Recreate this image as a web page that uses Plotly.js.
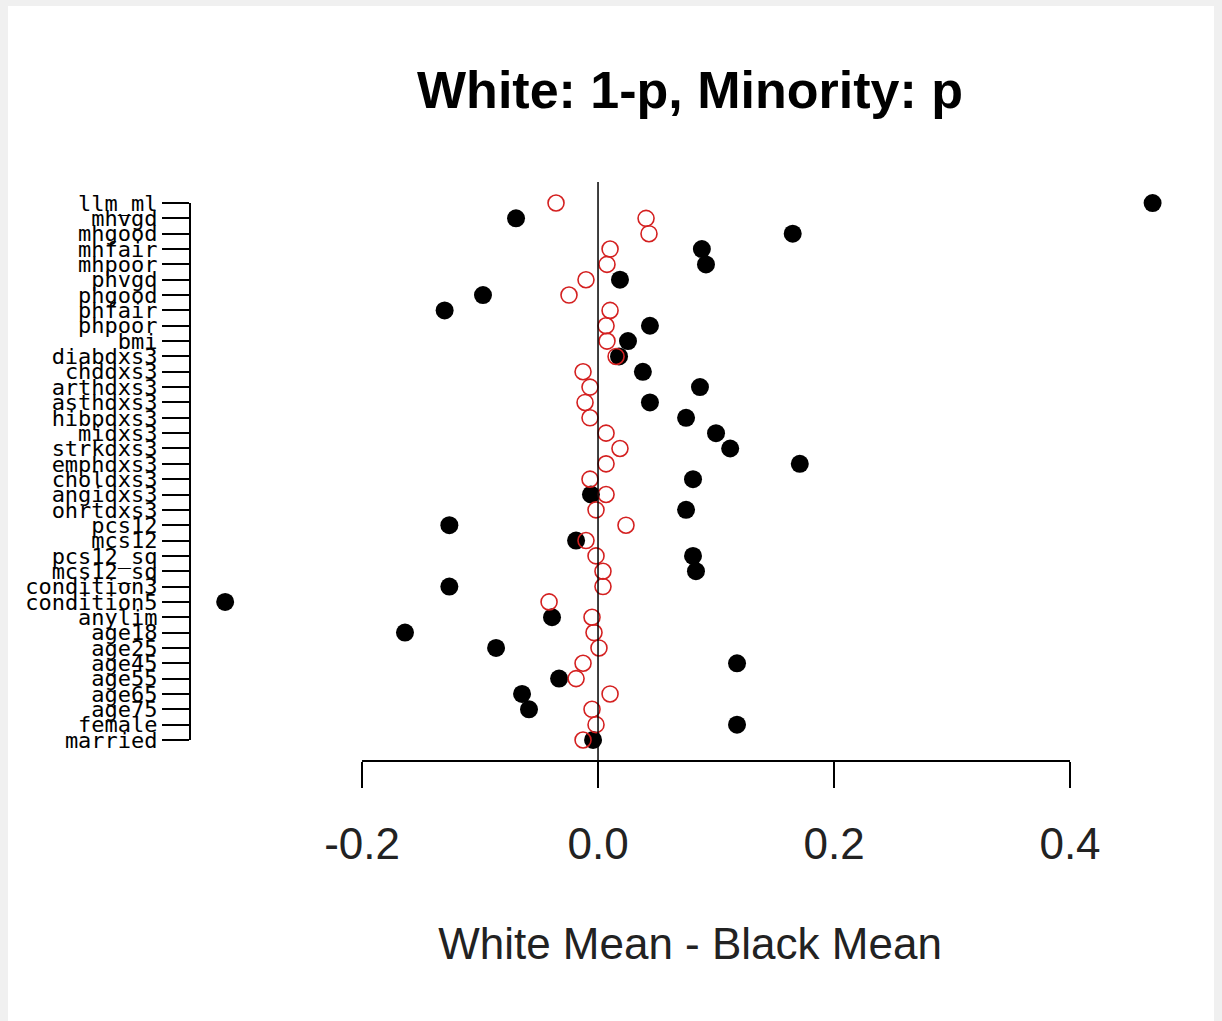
<!DOCTYPE html>
<html>
<head>
<meta charset="utf-8">
<script src="https://cdn.plot.ly/plotly-3.0.1.min.js"></script>
<style>
html,body{margin:0;padding:0;background:#f0f0f0;}
#chart{position:absolute;left:8px;top:6px;width:1206px;height:1015px;background:#fff;}
</style>
</head>
<body>
<div id="chart"></div>
<script>
const labels = ["llm_ml","mhvgd","mhgood","mhfair","mhpoor","phvgd","phgood","phfair","phpoor","bmi",
 "diabdxs3","chddxs3","arthdxs3","asthdxs3","hibpdxs3","midxs3","strkdxs3","emphdxs3","choldxs3","angidxs3",
 "ohrtdxs3","pcs12","mcs12","pcs12_sq","mcs12_sq","condition3","condition5","anylim","age18","age25",
 "age45","age55","age65","age75","female","married"];
// black filled points: white mean - black mean
const blackDiff = [0.470,-0.0695,0.165,0.088,0.0915,0.0186,-0.0975,-0.130,0.044,0.0254,
 0.0178,0.038,0.0864,0.044,0.0746,0.100,0.112,0.171,0.0805,-0.006,
 0.0746,-0.126,-0.0186,0.0805,0.083,-0.126,-0.316,-0.039,-0.1636,-0.0864,
 0.1178,-0.033,-0.0644,-0.0585,0.1178,-0.0042];
// red open points: weighted (1-p / p)
const redDiff = [-0.0356,0.0407,0.0432,0.0102,0.0076,-0.0102,-0.0246,0.0102,0.0068,0.0076,
 0.0153,-0.0127,-0.0068,-0.011,-0.0068,0.0068,0.0186,0.0068,-0.0068,0.0068,
 -0.0017,0.0237,-0.0102,-0.0017,0.0042,0.0042,-0.0415,-0.0051,-0.0034,0.0008,
 -0.0127,-0.0186,0.0102,-0.0051,-0.0017,-0.0127];
const xTicks = [-0.2, 0.0, 0.2, 0.4];
const xTickText = ["-0.2","0.0","0.2","0.4"];

const rows = labels.map((_, i) => i);

const traces = [
 {x: blackDiff, y: rows, type: 'scatter', mode: 'markers', name: 'unweighted',
  marker: {symbol: 'circle', size: 18, color: '#000'}, cliponaxis: false},
 {x: redDiff, y: rows, type: 'scatter', mode: 'markers', name: 'weighted',
  marker: {symbol: 'circle-open', size: 16, color: '#d42020', line: {width: 1.6, color: '#d42020'}}, cliponaxis: false}
];

const layout = {
 width: 1206, height: 1015,
 margin: {l: 182, r: 24, t: 176, b: 260},
 paper_bgcolor: '#fff', plot_bgcolor: '#fff',
 showlegend: false,
 title: {text: '<b>White: 1-p, Minority: p</b>', x: 0.5, xref: 'paper', y: 0.917, yref: 'container', yanchor: 'middle',
   font: {family: 'Liberation Sans, Arial, sans-serif', size: 52, color: '#000'}},
 xaxis: {
   range: [-0.3458, 0.5017], tickvals: xTicks, ticktext: xTickText,
   showgrid: false, zeroline: false, showline: false,
   ticks: 'outside', ticklen: 26, tickwidth: 2, tickcolor: '#000',
   ticklabelstandoff: 18,
   tickfont: {family: 'Liberation Sans, Arial, sans-serif', size: 44, color: '#222'},
   title: {text: 'White Mean - Black Mean', standoff: 61,
     font: {family: 'Liberation Sans, Arial, sans-serif', size: 44, color: '#222'}}
 },
 yaxis: {
   range: [36.37, -1.37], tickvals: rows, ticktext: labels,
   showgrid: false, zeroline: false, showline: false,
   ticks: 'outside', ticklen: 27, tickwidth: 2, tickcolor: '#000',
   tickfont: {family: 'DejaVu Sans Mono, monospace', size: 22, color: '#000'}
 },
 shapes: [
   {type: 'line', xref: 'x', yref: 'paper', x0: 0, x1: 0, y0: 0, y1: 1, line: {color: '#000', width: 1.5}},
   {type: 'line', xref: 'x', yref: 'paper', x0: -0.2, x1: 0.4, y0: 0, y1: 0, line: {color: '#000', width: 2}},
   {type: 'line', xref: 'paper', yref: 'y', x0: 0, x1: 0, y0: 0, y1: 35, line: {color: '#000', width: 2}}
 ]
};

Plotly.newPlot('chart', traces, layout, {displayModeBar: false, staticPlot: true});
</script>
</body>
</html>
